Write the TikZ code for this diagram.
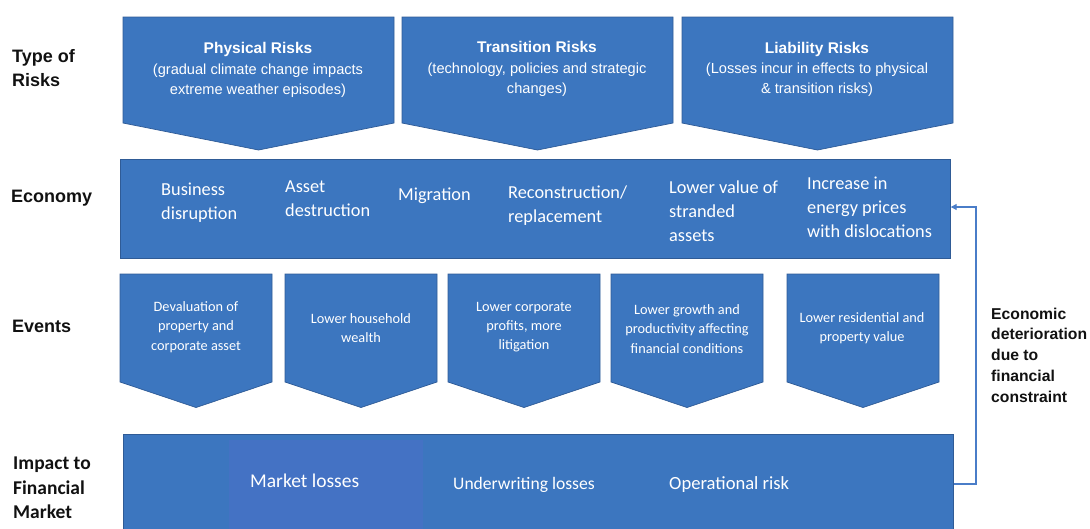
\documentclass[tikz,border=0pt]{standalone}
\usepackage{fontspec}
\setmainfont{Liberation Sans}
\newfontfamily\calibfont{Carlito}
\usetikzlibrary{arrows.meta}
\definecolor{boxblue}{HTML}{3C76BF}
\definecolor{boxedge}{HTML}{2F5B96}
\definecolor{hiblue}{HTML}{4472C4}
\definecolor{arrblue}{HTML}{4A7DC8}
\definecolor{lblblack}{HTML}{111111}
\begin{document}
\begin{tikzpicture}[x=1pt,y=-1pt,
  shapebox/.style={fill=boxblue,draw=boxedge,line width=0.7pt},
  rowlabel/.style={anchor=west,inner sep=0pt,align=left,text=lblblack,font=\bfseries\fontsize{18}{24}\selectfont},
  toptext/.style={text=white,align=center,inner sep=0pt,font=\fontsize{14.6}{20.2}\selectfont},
  econtext/.style={anchor=west,text=white,align=left,inner sep=0pt,font=\calibfont\fontsize{18.3}{24}\selectfont},
  evtext/.style={text=white,align=center,inner sep=0pt,font=\calibfont\fontsize{14.3}{19.3}\selectfont},
  fintext/.style={anchor=west,text=white,inner sep=0pt},
  loopline/.style={draw=arrblue,line width=1.2pt}]
\useasboundingbox (0,0) rectangle (1090,528);

% ---- row labels
\node[rowlabel] (lrisk) at (12,68) {Type of\\Risks};
\node[rowlabel] (lecon) at (11,198) {Economy};
\node[rowlabel] (levent) at (12,326) {Events};
\node[rowlabel,font=\calibfont\bfseries\fontsize{19.5}{24.5}\selectfont] (lfin) at (13,488) {Impact to\\Financial\\Market};

% ---- top pentagons
\path[shapebox] (123,17) -- (394,17) -- (394,123) -- (258.5,150) -- (123,123) -- cycle;
\path[shapebox] (402,17) -- (673,17) -- (673,123) -- (537.5,150) -- (402,123) -- cycle;
\path[shapebox] (682,17) -- (953,17) -- (953,123) -- (817.5,150) -- (682,123) -- cycle;
\node[toptext] (tphys) at (258,70) {{\bfseries\fontsize{15.5}{20.2}\selectfont Physical Risks}\\(gradual climate change impacts\\extreme weather episodes)};
\node[toptext] (ttrans) at (537,69) {{\bfseries\fontsize{15.5}{20.2}\selectfont Transition Risks}\\(technology, policies and strategic\\changes)};
\node[toptext] (tliab) at (817,69.5) {{\bfseries\fontsize{15.5}{20.2}\selectfont Liability Risks}\\(Losses incur in effects to physical\\\& transition risks)};

% ---- economy band
\node[shapebox,anchor=north west,minimum width=830pt,minimum height=99pt,inner sep=0pt] (econ) at (120,159) {};
\node[econtext] (e1) at (161,202.5) {Business\\disruption};
\node[econtext] (e2) at (285,199) {Asset\\destruction};
\node[econtext] (e3) at (398,196) {Migration};
\node[econtext] (e4) at (508,205.5) {Reconstruction/\\replacement};
\node[econtext] (e5) at (669,211) {Lower value of\\stranded\\assets};
\node[econtext] (e6) at (807,207) {Increase in\\energy prices\\with dislocations};

% ---- events pentagons
\path[shapebox] (120,274) -- (272,274) -- (272,382) -- (196,407.5) -- (120,382) -- cycle;
\path[shapebox] (285,274) -- (437,274) -- (437,382) -- (361,407.5) -- (285,382) -- cycle;
\path[shapebox] (448,274) -- (600,274) -- (600,382) -- (524,407.5) -- (448,382) -- cycle;
\path[shapebox] (611,274) -- (763,274) -- (763,382) -- (687,407.5) -- (611,382) -- cycle;
\path[shapebox] (787,274) -- (939,274) -- (939,382) -- (863,407.5) -- (787,382) -- cycle;
\node[evtext] (v1) at (196,327) {Devaluation of\\property and\\corporate asset};
\node[evtext] (v2) at (361,328) {Lower household\\wealth};
\node[evtext] (v3) at (524,327) {Lower corporate\\profits, more\\litigation};
\node[evtext] (v4) at (687,329) {Lower growth and\\productivity affecting\\financial conditions};
\node[evtext] (v5) at (862,328) {Lower residential and\\property value};

% ---- financial market band
\node[shapebox,anchor=north west,minimum width=830pt,minimum height=100pt,inner sep=0pt] (fin) at (123,434) {};
\fill[hiblue] (229,440) rectangle (423,534);
\node[fintext,font=\calibfont\fontsize{19.5}{24}\selectfont] (f1) at (250,481) {Market losses};
\node[fintext,font=\calibfont\fontsize{17.6}{22}\selectfont] (f2) at (453,485) {Underwriting losses};
\node[fintext,font=\calibfont\fontsize{18.6}{22}\selectfont] (f3) at (669,485) {Operational risk};

% ---- feedback loop
\coordinate (loopb) at (976,484);
\coordinate (loopt) at (976,207);
\draw[loopline,-{Triangle[length=6pt,width=6pt]}] (fin.east |- loopb) -- (loopb) -- (loopt) -- (econ.east |- loopt);
\node[anchor=west,align=left,inner sep=0pt,text=lblblack,font=\bfseries\fontsize{15.7}{20.8}\selectfont] (loopl) at (991,355) {Economic\\deterioration\\due to\\financial\\constraint};
\end{tikzpicture}
\end{document}
